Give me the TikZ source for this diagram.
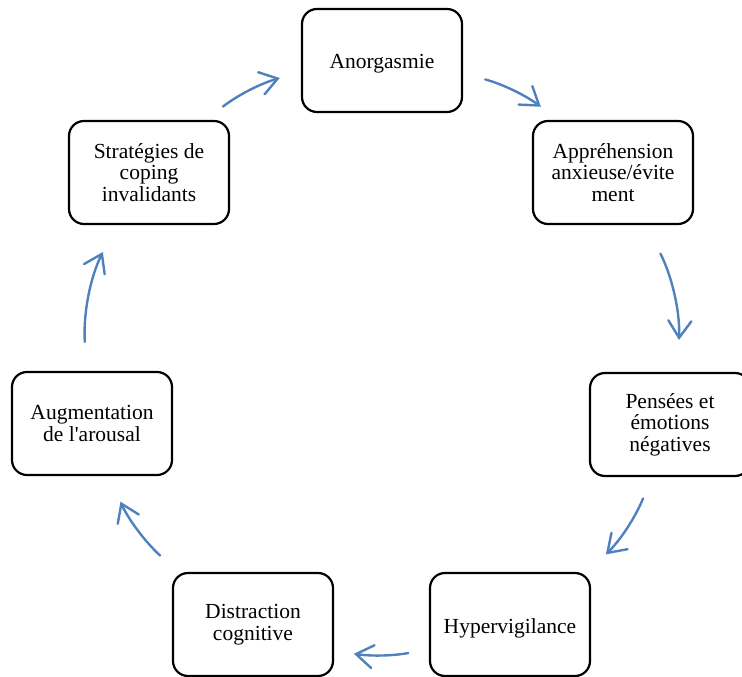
\documentclass[tikz,border=0pt]{standalone}
\usepackage{fontspec}
\newfontfamily\boxfont{Liberation Serif}
\usepackage{tikz}
\usetikzlibrary{arrows.meta}
\definecolor{cyBlue}{RGB}{79,129,189}
\tikzset{
  etape/.style={draw=black, line width=2.2pt, rounded corners=15pt, fill=white,
    minimum width=160pt, minimum height=103pt, align=center, inner sep=2pt,
    font=\boxfont\fontsize{21.5}{21.5}\selectfont},
  fleche/.style={cyBlue, line width=2.4pt, line cap=round,
    -{Straight Barb[length=17pt,width=23pt,line cap=round]}}
}
\begin{document}
\begin{tikzpicture}[x=1pt,y=1pt]
  \useasboundingbox (0,0) rectangle (742,677);

  % Cycle steps
  \node[etape] (anorg) at (382,616.5) {\raisebox{-3.5pt}[\height][\depth]{Anorgasmie}};
  \node[etape] (appre) at (613,504.5) {Appréhension\\anxieuse/évite\\ment};
  \node[etape] (pens)  at (670,252.5) {Pensées et\\émotions\\négatives};
  \node[etape] (hyper) at (510,52.5)  {\raisebox{-3.5pt}[\height][\depth]{Hypervigilance}};
  \node[etape] (distr) at (253,52.5)  {Distraction\\cognitive};
  \node[etape] (augm)  at (92,253.5)  {Augmentation\\de l'arousal};
  \node[etape] (strat) at (149,504.5) {Stratégies de\\coping\\invalidants};

  % Arrows round the cycle
  \foreach \src/\sa/\dst/\da/\bd/\sh/\sg in {strat/43/anorg/188.8/10.6/22/22,
      anorg/351.2/appre/136.5/10.6/23/22, appre/302.2/pens/82.2/14.9/32/32,
      pens/251.7/hyper/34.5/11.6/23/25, hyper/197.7/distr/342.3/9.4/21/20,
      distr/145.5/augm/288.9/11.7/24/28, augm/96.9/strat/238.6/14.8/29/30} {
    \draw[fleche, shorten <=\sh pt, shorten >=\sg pt] (\src.\sa) to[bend left=\bd] (\dst.\da);
  }
\end{tikzpicture}
\end{document}
